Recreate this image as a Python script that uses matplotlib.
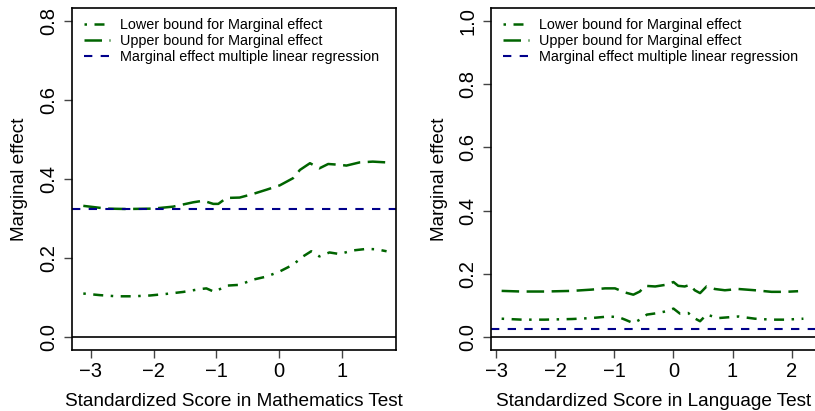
import matplotlib
matplotlib.use("Agg")
import matplotlib.pyplot as plt

plt.rcParams['font.family'] = ['Liberation Sans', 'DejaVu Sans']

# Mathematics panel
math_x = [-3.12, -2.75, -2.43, -2.01, -1.69, -1.37, -1.21, -1.05, -0.97, -0.84,
          -0.63, -0.42, -0.20, 0.01, 0.22, 0.33, 0.49, 0.64, 0.78, 0.96,
          1.07, 1.28, 1.49, 1.71]
math_upper = [0.332, 0.325, 0.324, 0.325, 0.330, 0.341, 0.345, 0.337, 0.337, 0.352,
              0.353, 0.362, 0.373, 0.384, 0.402, 0.423, 0.440, 0.427, 0.438, 0.436,
              0.434, 0.442, 0.444, 0.442]
math_lower_x = [-3.12, -2.86, -2.59, -2.33, -2.06, -1.80, -1.53, -1.27, -1.16, -1.03,
                -0.84, -0.63, -0.42, -0.20, 0.01, 0.22, 0.38, 0.51, 0.64, 0.80,
                0.96, 1.17, 1.39, 1.55, 1.71]
math_lower = [0.110, 0.106, 0.103, 0.103, 0.105, 0.109, 0.114, 0.121, 0.123, 0.114,
              0.130, 0.132, 0.145, 0.153, 0.166, 0.183, 0.204, 0.217, 0.204, 0.214,
              0.210, 0.219, 0.223, 0.222, 0.217]
math_mlr = 0.324

# Language panel
lang_x = [-2.91, -2.57, -2.18, -1.72, -1.39, -1.16, -0.99, -0.82, -0.68, -0.57,
          -0.48, -0.31, -0.14, 0.00, 0.08, 0.19, 0.28, 0.36, 0.45, 0.56,
          0.70, 0.87, 1.10, 1.38, 1.66, 1.89, 2.11]
lang_upper = [0.146, 0.144, 0.144, 0.146, 0.150, 0.154, 0.154, 0.141, 0.134, 0.144,
              0.162, 0.160, 0.165, 0.174, 0.162, 0.160, 0.165, 0.148, 0.139, 0.160,
              0.152, 0.148, 0.152, 0.148, 0.143, 0.143, 0.145]
lang_lower_x = [-2.91, -2.57, -2.18, -1.72, -1.39, -1.10, -0.93, -0.82, -0.68, -0.57,
                -0.45, -0.26, -0.09, 0.00, 0.11, 0.25, 0.35, 0.45, 0.56, 0.76,
                1.10, 1.38, 1.66, 1.89, 2.20]
lang_lower = [0.058, 0.055, 0.055, 0.057, 0.060, 0.065, 0.063, 0.055, 0.044, 0.055,
              0.071, 0.076, 0.083, 0.090, 0.074, 0.076, 0.060, 0.050, 0.071, 0.060,
              0.065, 0.058, 0.055, 0.055, 0.058]
lang_mlr = 0.025

labels = ['Lower bound for Marginal effect',
          'Upper bound for Marginal effect',
          'Marginal effect multiple linear regression']

GREEN = '#006400'
BLUE = '#00008B'

fig = plt.figure(figsize=(8.15, 4.11), dpi=100)

W, H = 815, 411


def make_axes(left_px, right_px):
    return fig.add_axes([left_px / W, (H - 350) / H,
                         (right_px - left_px) / W, (350 - 8) / H])


def draw_panel(ax, lx, lower, ux, upper, mlr, xlim, ylim, yticks, xticks, xlabel):
    l1, = ax.plot(lx, lower, color=GREEN, lw=1.8, dashes=(1, 3, 4, 3))
    l2, = ax.plot(ux, upper, color=GREEN, lw=1.8, dashes=(7, 3))
    l3 = ax.axhline(mlr, color=BLUE, lw=1.5, dashes=(4, 4))
    ax.axhline(0, color='black', lw=1.2)
    ax.set_xlim(*xlim)
    ax.set_ylim(*ylim)
    ax.set_yticks(yticks)
    ax.set_xticks(xticks)
    ax.set_xticklabels(['\u2212' + str(-t) if t < 0 else str(t) for t in xticks])
    ax.set_yticklabels([f'{t:.1f}' for t in yticks])
    ax.tick_params(axis='both', direction='out', length=6, width=1,
                   labelsize=14.5, color='#444444')
    ax.tick_params(axis='y', pad=4)
    ax.tick_params(axis='x', pad=2.5)
    for lab in ax.get_yticklabels():
        lab.set_rotation(90)
        lab.set_va('center')
    for s in ax.spines.values():
        s.set_linewidth(1.2)
    ax.set_xlabel(xlabel, fontsize=13.7)
    ax.set_ylabel('Marginal effect', fontsize=13.7)
    ax.xaxis.set_label_coords(0.5, -0.125)
    ax.legend([l1, l2, l3], labels, loc='upper left', frameon=False,
              fontsize=10.4, handlelength=1.8, handletextpad=0.7,
              labelspacing=0.12, borderaxespad=0.2,
              bbox_to_anchor=(0.01, 0.995))


ax1 = make_axes(72, 396)
draw_panel(ax1, math_lower_x, math_lower, math_x, math_upper, math_mlr,
           (-3.30, 1.86), (-0.033, 0.833), [0.0, 0.2, 0.4, 0.6, 0.8],
           [-3, -2, -1, 0, 1], 'Standardized Score in Mathematics Test')
ax1.yaxis.set_label_coords(-0.136, 0.5)

ax2 = make_axes(491, 817)
draw_panel(ax2, lang_lower_x, lang_lower, lang_x, lang_upper, lang_mlr,
           (-3.09, 2.43), (-0.041, 1.041), [0.0, 0.2, 0.4, 0.6, 0.8, 1.0],
           [-3, -2, -1, 0, 1, 2], 'Standardized Score in Language Test')
ax2.yaxis.set_label_coords(-0.131, 0.5)

fig.savefig('out.png', dpi=100)
